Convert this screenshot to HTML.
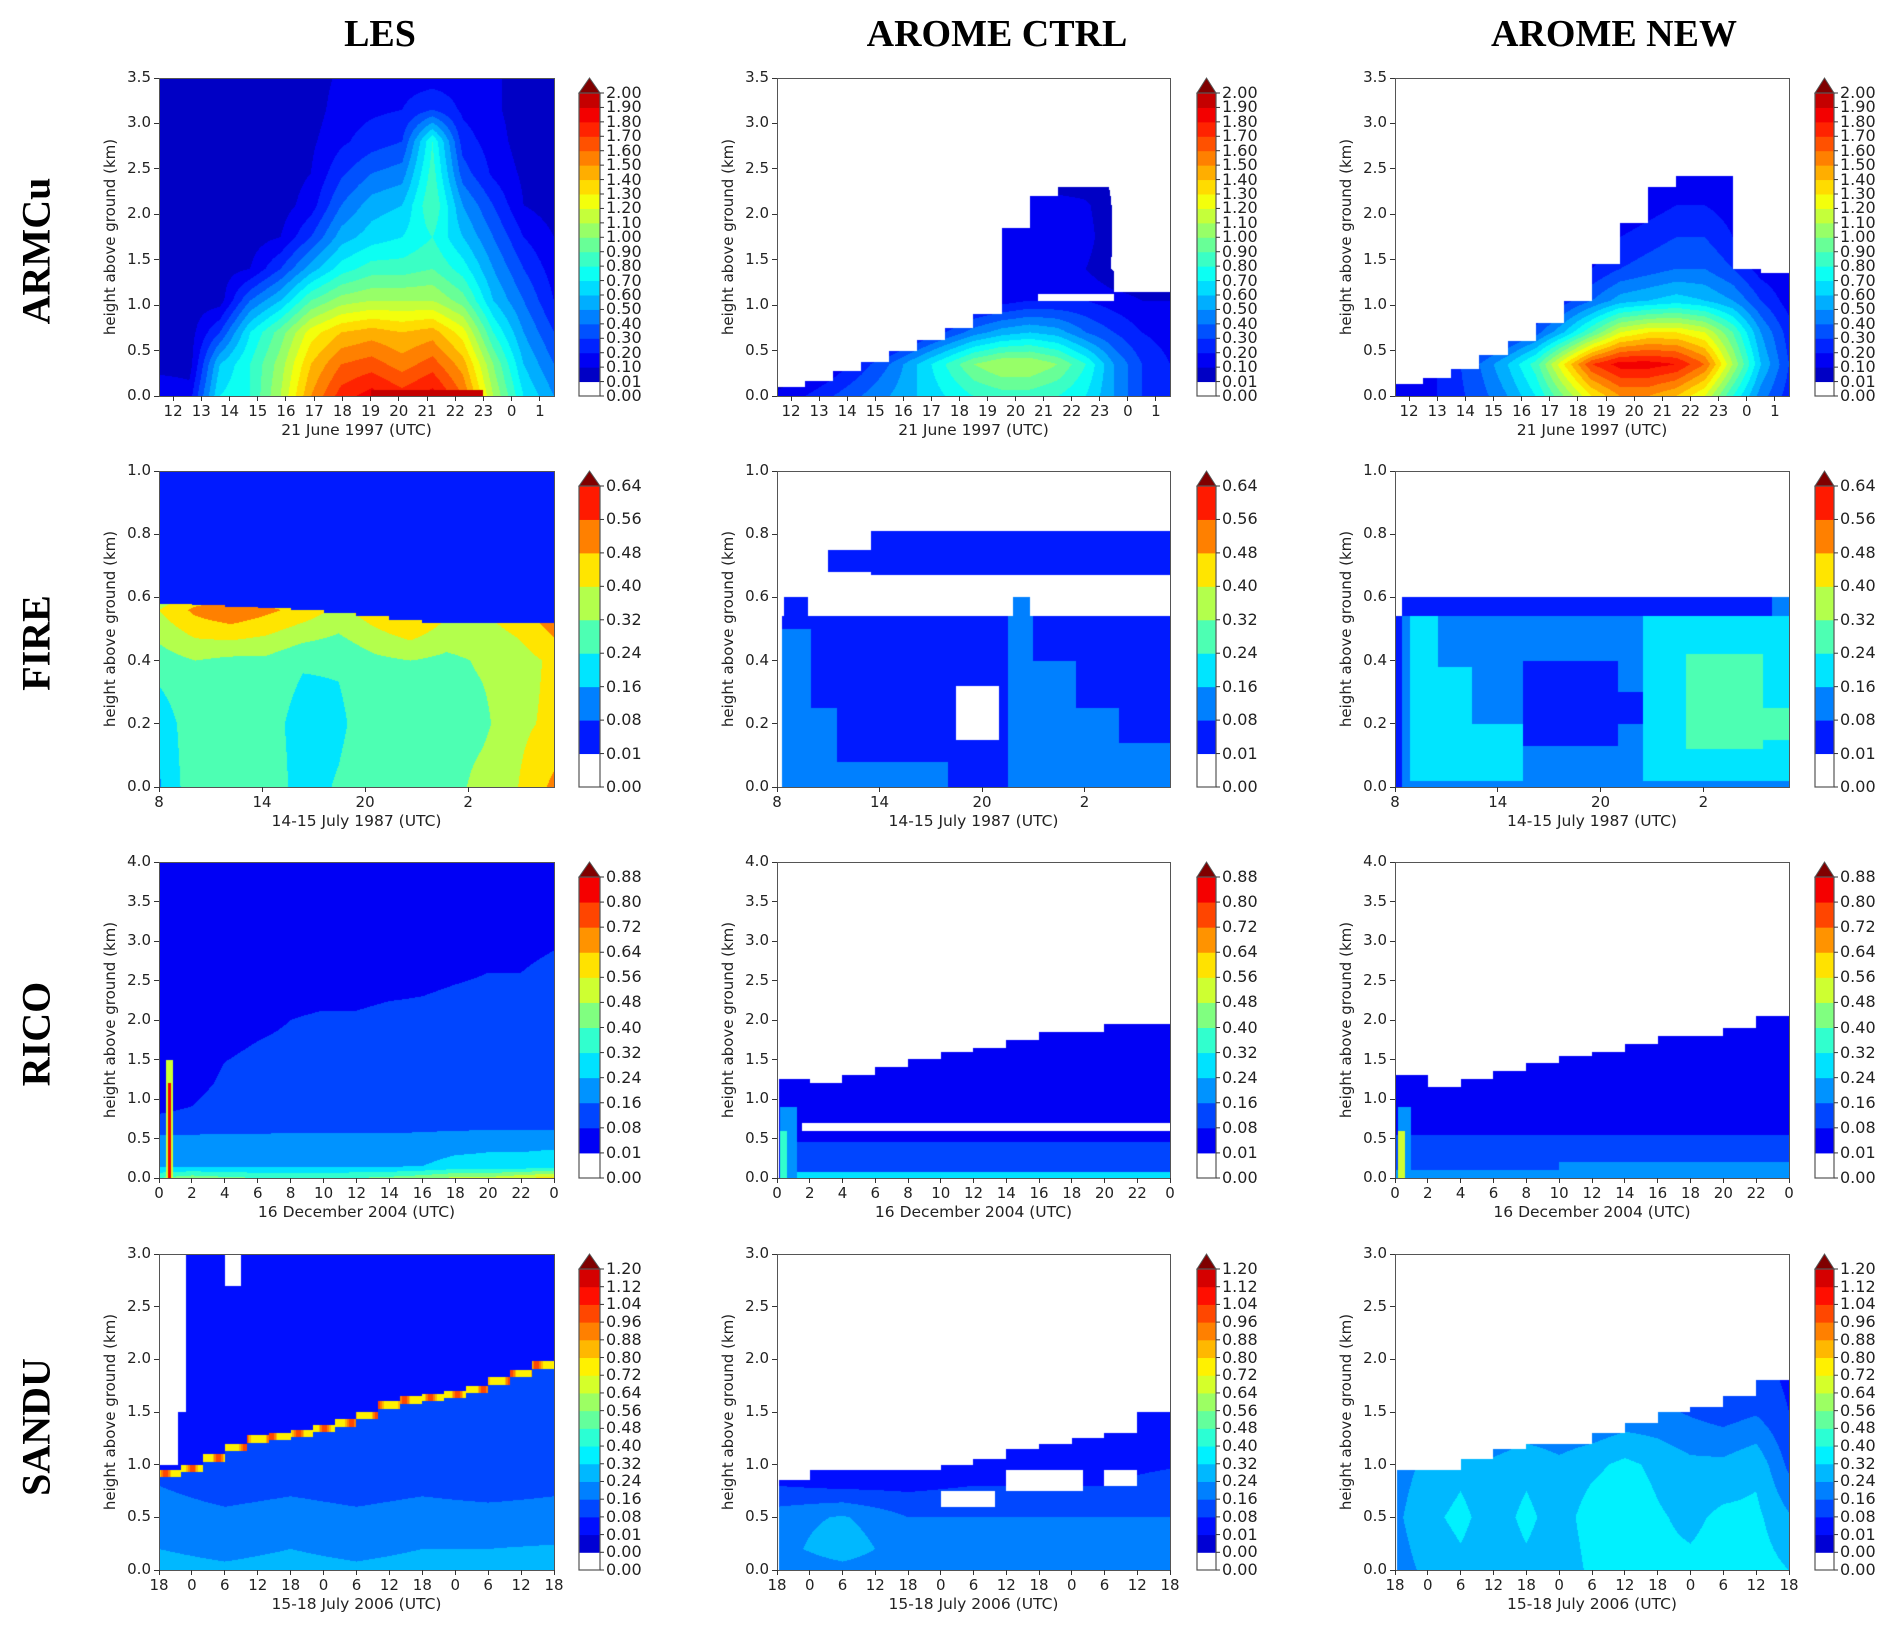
<!DOCTYPE html>
<html><head><meta charset="utf-8">
<style>
body{margin:0;background:#fff;width:1892px;height:1632px;position:relative;overflow:hidden;font-family:"DejaVu Sans","Liberation Sans",sans-serif;color:#222}
.abs{position:absolute}
.title{position:absolute;font-family:"Liberation Serif",serif;font-weight:bold;font-size:38px;color:#000;transform:translateX(-50%);white-space:nowrap}
.rowlab{position:absolute;font-family:"Liberation Serif",serif;font-weight:bold;font-size:40px;color:#000;transform:translate(-50%,-50%) rotate(-90deg);white-space:nowrap}
.frame{position:absolute;border:1.5px solid #555;box-sizing:border-box}
.tk{position:absolute;background:#333}
.lbl{position:absolute;font-size:15px;white-space:nowrap;line-height:1}
.cbl{position:absolute;font-size:16px;white-space:nowrap;line-height:1}
.ylab{position:absolute;font-size:15px;white-space:nowrap;transform:translate(-50%,-50%) rotate(-90deg)}
</style></head><body>
<div class="title" style="left:380px;top:12px">LES</div>
<div class="title" style="left:997px;top:12px">AROME CTRL</div>
<div class="title" style="left:1614px;top:12px">AROME NEW</div>
<div class="rowlab" style="left:36px;top:251px">ARMCu</div>
<div class="rowlab" style="left:36px;top:643px">FIRE</div>
<div class="rowlab" style="left:36px;top:1034px">RICO</div>
<div class="rowlab" style="left:36px;top:1427px">SANDU</div>
<script>
// ---- colour levels ----
const levelsArmcu=[0,0.01,0.1,0.2,0.3,0.4,0.5,0.6,0.7,0.8,0.9,1.0,1.1,1.2,1.3,1.4,1.5,1.6,1.7,1.8,1.9,2.0];
const levelsFire=[0,0.01,0.08,0.16,0.24,0.32,0.40,0.48,0.56,0.64];
const levelsRico=[0,0.01,0.08,0.16,0.24,0.32,0.40,0.48,0.56,0.64,0.72,0.80,0.88];
const levelsSandu=[0,0,0.01,0.08,0.16,0.24,0.32,0.40,0.48,0.56,0.64,0.72,0.80,0.88,0.96,1.04,1.12,1.20];
// ---- axes ----
const xTicksArmcu=[12,13,14,15,16,17,18,19,20,21,22,23,24,25];
const xLabelsArmcu=["12","13","14","15","16","17","18","19","20","21","22","23","0","1"];
const xTicksFire=[8,14,20,26];
const xLabelsFire=["8","14","20","2"];
const xTicksRico=[0,2,4,6,8,10,12,14,16,18,20,22,24];
const xLabelsRico=["0","2","4","6","8","10","12","14","16","18","20","22","0"];
const xTicksSandu=[0,6,12,18,24,30,36,42,48,54,60,66,72];
const xLabelsSandu=["18","0","6","12","18","0","6","12","18","0","6","12","18"];
const yTicksArmcu=[0,0.5,1.0,1.5,2.0,2.5,3.0,3.5];
const yTicksFire=[0,0.2,0.4,0.6,0.8,1.0];
const yTicksRico=[0,0.5,1.0,1.5,2.0,2.5,3.0,3.5,4.0];
const yTicksSandu=[0,0.5,1.0,1.5,2.0,2.5,3.0];
// ---- fields ----
const armcuLesH=[3.5,3.15,2.8,2.45,2.1,1.75,1.4,1.05,0.7,0.35,0];
const armcuLesGrid=[
[.05,.05,.05,.05,.05,.05,.12,.15,.15,.15,.15,.12,.05,.05],
[.05,.05,.05,.05,.05,.05,.15,.18,.2,.3,.18,.12,.05,.05],
[.05,.05,.05,.05,.05,.08,.18,.25,.3,.8,.25,.15,.05,.05],
[.05,.05,.05,.05,.05,.1,.28,.4,.45,.85,.35,.18,.08,.05],
[.05,.05,.05,.05,.05,.15,.4,.55,.6,.9,.5,.3,.1,.05],
[.05,.05,.05,.05,.1,.3,.55,.65,.7,.8,.6,.4,.2,.1],
[.05,.05,.05,.1,.3,.55,.75,.85,.85,.9,.75,.5,.3,.15],
[.05,.05,.05,.4,.6,.9,1.05,1.1,1.1,1.1,.95,.6,.4,.2],
[.05,.05,.3,.7,.95,1.25,1.4,1.45,1.4,1.45,1.25,.8,.5,.3],
[.05,.05,.6,.8,1.05,1.4,1.6,1.65,1.55,1.65,1.45,1.0,.6,.4],
[.2,.15,.7,.8,1.1,1.5,1.75,1.85,1.75,1.85,1.6,1.1,.7,.5]];
const armcuLesRects=[[19,23,0,0.07,1.95]];
const armcuCtrlH=[3.5,3.15,2.8,2.45,2.1,1.75,1.4,1.05,0.7,0.35,0];
const armcuCtrlGrid=[
[0,0,0,0,0,0,0,0,0,0,0,0,0,0,0],
[0,0,0,0,0,0,0,0,0,0,0,0,0,0,0],
[0,0,0,0,0,0,0,0,0,0,0,0,0,0,0],
[0,0,0,0,0,0,0,0,0,0,0,0,0,0,0],
[0,0,0,0,0,0,0,0,.12,.15,.15,.12,0,0,0],
[0,0,0,0,0,0,0,.08,.15,.2,.2,.15,0,0,0],
[0,0,0,0,0,0,0,.1,.15,.2,.15,.1,0,0,0],
[0,0,0,0,0,0,0,.1,.15,.2,.2,.2,.15,.1,.1],
[0,0,0,0,0,.15,.3,.45,.55,.6,.55,.4,.3,.2,.15],
[0,0,.12,.25,.4,.6,.8,1.0,1.1,1.1,1.0,.8,.5,.3,.2],
[.12,.2,.3,.4,.5,.6,.7,.8,.85,.85,.8,.7,.5,.3,.2]];
const armcuCtrlTops=[0.1,0.17,0.27,0.37,0.5,0.62,0.75,0.9,1.85,2.2,2.3,2.3,1.15,1.15];
const armcuCtrlRects=[[18.4,19.3,1.02,1.1,0],[20.8,23.5,1.05,1.12,0]];
const armcuNewH=[3.5,3.15,2.8,2.45,2.1,1.75,1.4,1.05,0.7,0.35,0];
const armcuNewGrid=[
[0,0,0,0,0,0,0,0,0,0,0,0,0,0,0],
[0,0,0,0,0,0,0,0,0,0,0,0,0,0,0],
[0,0,0,0,0,0,0,0,0,0,0,0,0,0,0],
[0,0,0,0,0,0,0,0,.08,.1,.12,.12,.1,0,0],
[0,0,0,0,0,0,0,0,.1,.15,.2,.2,.15,0,0],
[0,0,0,0,0,0,0,.1,.2,.25,.3,.3,.2,.05,0],
[0,0,0,0,0,0,.1,.2,.3,.35,.4,.4,.3,.15,.1],
[0,0,0,0,0,.1,.25,.4,.55,.6,.65,.6,.5,.3,.15],
[0,0,0,.1,.2,.35,.6,.9,1.2,1.3,1.3,1.2,.9,.5,.25],
[.1,.15,.25,.4,.6,.85,1.3,1.7,1.85,1.85,1.8,1.6,1.1,.6,.3],
[.1,.15,.25,.35,.5,.7,1.0,1.3,1.5,1.5,1.4,1.2,.8,.45,.25]];
const armcuNewTops=[0.13,0.2,0.3,0.45,0.6,0.8,1.05,1.45,1.9,2.3,2.42,2.42,1.4,1.35];
const fireLesH=[1.0,0.8,0.56,0.4,0.2,0];
const fireLesGrid=[
[.04,.04,.04,.04,.04,.04,.04,.04,.04,.04,.04,.04],
[.04,.04,.04,.04,.04,.04,.04,.04,.04,.04,.04,.04],
[.4,.5,.55,.5,.45,.38,.45,.52,.42,.4,.45,.55],
[.28,.32,.3,.3,.25,.25,.3,.32,.3,.33,.36,.42],
[.18,.3,.3,.28,.2,.22,.3,.3,.28,.3,.38,.42],
[.15,.3,.3,.3,.2,.25,.32,.3,.28,.35,.4,.5]];
const fireLesTops=[.58,.575,.57,.565,.56,.55,.54,.53,.52,.52,.52,.52];
const fireCtrlRects=[[8.3,31,0,0.54,0.05],[8.4,9.8,0.54,0.6,0.05],[21.8,22.8,0.54,0.6,0.12],[11,13.5,0.68,0.75,0.05],[13.5,31,0.67,0.81,0.05],[8.3,10,0,0.5,0.12],[10,11.5,0,0.25,0.12],[11.5,18,0,0.08,0.12],[21.5,23,0,0.54,0.12],[23,25.5,0,0.4,0.12],[25.5,28,0,0.25,0.12],[28,31,0,0.14,0.12],[18.5,21,0.15,0.32,0]];
const fireNewRects=[[8.4,31,0.54,0.6,0.05],[8.3,31,0,0.54,0.12],[8.9,10.5,0.02,0.54,0.2],[10.5,12.5,0.02,0.38,0.2],[12.5,15.5,0.02,0.2,0.2],[15.5,21,0.13,0.4,0.05],[21,22.5,0.2,0.3,0.05],[22.5,31,0.02,0.54,0.2],[25,29.5,0.12,0.42,0.26],[29.5,31,0.15,0.25,0.26],[8,8.4,0,0.54,0.05],[30,31,0.54,0.6,0.12]];
const ricoLesH=[4,2.6,2.0,1.2,0.62,0.5,0.15,0];
const ricoLesGrid=[
[.04,.04,.04,.04,.04,.04,.04,.04,.04,.04,.04,.04,.04],
[.04,.04,.04,.04,.04,.04,.04,.05,.06,.07,.08,.08,.09],
[.04,.04,.06,.07,.08,.09,.09,.1,.1,.11,.11,.12,.12],
[.04,.06,.09,.1,.1,.11,.11,.11,.11,.12,.12,.12,.12],
[.1,.1,.12,.12,.13,.13,.13,.13,.14,.15,.15,.15,.15],
[.19,.2,.2,.2,.2,.2,.2,.2,.2,.21,.22,.22,.22],
[.22,.22,.22,.22,.22,.22,.23,.23,.24,.26,.26,.26,.27],
[.4,.45,.42,.4,.4,.4,.4,.42,.45,.5,.5,.55,.6]];
const ricoLesRects=[[0.45,0.85,0,1.5,0.5],[0.55,0.75,0,1.2,0.85]];
const ricoCtrlH=[4,0];
const ricoCtrlGrid=[[.05,.05],[.05,.05]];
const ricoCtrlTops=[1.25,1.2,1.3,1.4,1.5,1.6,1.65,1.75,1.85,1.85,1.95,1.95];
const ricoCtrlRects=[[1.5,24,0.6,0.7,0],[0.2,24,0.3,0.45,0.1],[1,24,0.08,0.3,0.16],[0.2,24,0,0.08,0.25],[0.2,1.2,0,0.9,0.2],[0.2,0.6,0,0.6,0.4]];
const ricoNewH=[4,0];
const ricoNewGrid=[[.05,.05],[.05,.05]];
const ricoNewTops=[1.3,1.15,1.25,1.35,1.45,1.55,1.6,1.7,1.8,1.8,1.9,2.05];
const ricoNewRects=[[0,24,0.3,0.55,0.1],[0,24,0.1,0.3,0.16],[0,24,0,0.1,0.24],[10,24,0,0.2,0.24],[0.2,1,0,0.9,0.2],[0.2,0.6,0,0.6,0.5]];
const sanduLesH=[2,1.2,0.8,0.4,0];
const sanduLesGrid=[
[.12,.12,.12,.12,.12,.12,.12],
[.14,.12,.13,.14,.12,.15,.14],
[.16,.12,.14,.12,.14,.12,.14],
[.22,.2,.22,.2,.22,.22,.22],
[.26,.25,.26,.25,.26,.26,.27]];
const sanduLesTops=[.95,1.0,1.1,1.2,1.28,1.3,1.33,1.38,1.43,1.5,1.6,1.65,1.67,1.7,1.75,1.83,1.9,1.98];
const sanduLesRects=[[0,3.5,1.0,3,0],[3.5,5,1.5,3,0],[12,15,2.7,3,0]];
const sanduCtrlH=[3,1.2,0.8,0.5,0.2,0];
const sanduCtrlGrid=[
[0,0,0,0,0,0,0],
[.05,.05,.05,.05,.05,.05,.05],
[.08,.06,.06,.08,.08,.08,.1],
[.2,.25,.16,.16,.16,.16,.16],
[.2,.3,.18,.18,.18,.18,.18],
[.16,.2,.16,.16,.16,.16,.16]];
const sanduCtrlTops=[.85,.95,.95,.95,.95,1.0,1.05,1.15,1.2,1.25,1.3,1.5];
const sanduCtrlRects=[[42,56,0.75,0.95,0],[30,40,0.6,0.75,0],[60,66,0.8,0.95,0]];
const sanduNewH=[3,1.5,1.0,0.5,0];
const sanduNewGrid=[
[0,0,0,0,0,0,0,0,0,0,0,0,0],
[.08,.1,.12,.12,.15,.15,.15,.18,.18,.15,.12,.15,.08],
[.2,.26,.3,.26,.3,.26,.3,.34,.3,.26,.26,.3,.14],
[.22,.3,.34,.28,.34,.28,.36,.38,.33,.3,.34,.34,.25],
[.2,.26,.3,.26,.3,.26,.34,.34,.34,.34,.36,.36,.32]];
const sanduNewTops=[.95,.95,1.05,1.15,1.2,1.2,1.3,1.4,1.5,1.55,1.65,1.8];

const colX=[[159,554,579,600],[777,1170,1197,1216],[1395,1789,1815,1834]];
const rowY=[[78,396],[471,787],[862,1178],[1254,1570]];
const rows=[
 {name:"armcu",x0:11.5,x1:25.5,y1:3.5,lev:levelsArmcu,xt:xTicksArmcu,xl:xLabelsArmcu,yt:yTicksArmcu,xlabel:"21 June 1997 (UTC)",
  panels:[{bg:.05,H:armcuLesH,grid:armcuLesGrid,rects:armcuLesRects},{bg:0,H:armcuCtrlH,grid:armcuCtrlGrid,tops:armcuCtrlTops,rects:armcuCtrlRects},{bg:0,H:armcuNewH,grid:armcuNewGrid,tops:armcuNewTops}]},
 {name:"fire",x0:8,x1:31,y1:1,lev:levelsFire,xt:xTicksFire,xl:xLabelsFire,yt:yTicksFire,xlabel:"14-15 July 1987 (UTC)",
  panels:[{bg:.04,H:fireLesH,grid:fireLesGrid,tops:fireLesTops},{bg:0,rects:fireCtrlRects},{bg:0,rects:fireNewRects}]},
 {name:"rico",x0:0,x1:24,y1:4,lev:levelsRico,xt:xTicksRico,xl:xLabelsRico,yt:yTicksRico,xlabel:"16 December 2004 (UTC)",
  panels:[{bg:.04,H:ricoLesH,grid:ricoLesGrid,rects:ricoLesRects},{bg:0,H:ricoCtrlH,grid:ricoCtrlGrid,tops:ricoCtrlTops,rects:ricoCtrlRects,x0:0.15},{bg:0,H:ricoNewH,grid:ricoNewGrid,tops:ricoNewTops,rects:ricoNewRects}]},
 {name:"sandu",x0:0,x1:72,y1:3,lev:levelsSandu,xt:xTicksSandu,xl:xLabelsSandu,yt:yTicksSandu,xlabel:"15-18 July 2006 (UTC)",
  panels:[{bg:.04,H:sanduLesH,grid:sanduLesGrid,tops:sanduLesTops,cap:.75,capT:.07,rects:sanduLesRects},{bg:0,H:sanduCtrlH,grid:sanduCtrlGrid,tops:sanduCtrlTops,rects:sanduCtrlRects,x0:0.3},{bg:0,H:sanduNewH,grid:sanduNewGrid,tops:sanduNewTops,x0:0.3}]}
];
const colNames=["les","arome-ctrl","arome-new"];
function clip(v){return Math.max(0,Math.min(1,v));}
function jet(t){return [clip(1.5-Math.abs(4*t-3)),clip(1.5-Math.abs(4*t-2)),clip(1.5-Math.abs(4*t-1))].map(c=>Math.round(c*255));}
function binColor(lev,k){
  const K=lev.length-2;
  if(k<=0) return [255,255,255];
  if(k>K) return [128,0,0];
  return jet((k-1+1.5)/(K+2));
}
function colorOf(lev,v){
  if(v>lev[lev.length-1]) return binColor(lev,lev.length);
  for(let k=0;k<lev.length-1;k++){ if(v<=lev[k+1]) return binColor(lev,k); }
  return binColor(lev,lev.length);
}
function sample(p,R,x,y){
  let v=p.bg;
  if(p.grid){
    const H=p.H, g=p.grid, nc=g[0].length;
    let i=0; while(i<H.length-2 && y<H[i+1]) i++;
    const fy=(H[i]-y)/(H[i]-H[i+1]);
    const cx=(x-R.x0)/(R.x1-R.x0)*(nc-1);
    const j=Math.max(0,Math.min(nc-2,Math.floor(cx))); const fx=Math.max(0,Math.min(1,cx-j));
    const a=g[i][j]*(1-fx)+g[i][j+1]*fx, b=g[i+1][j]*(1-fx)+g[i+1][j+1]*fx;
    v=a*(1-fy)+b*fy;
  }
  if(p.tops){
    const n=p.tops.length; const idx=Math.max(0,Math.min(n-1,Math.floor((x-R.x0)/(R.x1-R.x0)*n)));
    const top=p.tops[idx];
    if(y>top) v=p.bg;
    else if(p.cap && y>top-p.capT) v=p.cap+0.25*Math.max(0,Math.sin(x*1.3));
  }
  if(p.x0!==undefined && x<R.x0+p.x0) v=0;
  if(p.rects) for(const r of p.rects){ if(x>=r[0]&&x<r[1]&&y>=r[2]&&y<r[3]) v=r[4]; }
  return v;
}
function el(tag,cls){const e=document.createElement(tag); if(cls) e.className=cls; document.body.appendChild(e); return e;}
rows.forEach((R,ri)=>{
  const [yt,yb]=rowY[ri];
  R.panels.forEach((p,ci)=>{
    const [xl,xr,cbl,cbr]=colX[ci];
    const W=xr-xl, Hh=yb-yt;
    const cv=document.createElement('canvas'); cv.width=W; cv.height=Hh;
    cv.style.cssText=`position:absolute;left:${xl}px;top:${yt}px`;
    
    
    document.body.appendChild(cv);
    const ctx=cv.getContext('2d'); const img=ctx.createImageData(W,Hh);
    for(let py=0;py<Hh;py++){ const y=R.y1*(1-(py+0.5)/Hh);
      for(let px=0;px<W;px++){ const x=R.x0+(R.x1-R.x0)*(px+0.5)/W;
        const c=colorOf(R.lev,sample(p,R,x,y)); const o=(py*W+px)*4;
        img.data[o]=c[0];img.data[o+1]=c[1];img.data[o+2]=c[2];img.data[o+3]=255; } }
    ctx.putImageData(img,0,0);
    const fr=el('div','frame'); fr.style.cssText=`left:${xl}px;top:${yt}px;width:${W+1}px;height:${Hh+1}px`;
    
    
    R.xt.forEach((t,k)=>{ const px=xl+(t-R.x0)/(R.x1-R.x0)*W;
      const tk=el('div','tk'); tk.style.cssText=`left:${px-0.5}px;top:${yb}px;width:1px;height:5px`;
      
      
      const lb=el('div','lbl'); lb.textContent=R.xl[k]; lb.style.cssText=`left:${px}px;top:${yb+8}px;transform:translateX(-50%)`;
      
       });
    R.yt.forEach(t=>{ const py=yb-t/R.y1*Hh;
      const tk=el('div','tk'); tk.style.cssText=`left:${xl-5}px;top:${py-0.5}px;width:5px;height:1px`;
      
      
      const lb=el('div','lbl'); lb.textContent=t.toFixed(1); lb.style.cssText=`right:${1892-xl+8}px;top:${py-8}px`;
      
       });
    const yl=el('div','ylab'); yl.textContent='height above ground (km)'; yl.style.left=(xl-49)+'px'; yl.style.top=((yt+yb)/2)+'px';
    
    
    const xlb=el('div','lbl'); xlb.textContent=R.xlabel; xlb.style.cssText=`left:${(xl+xr)/2}px;top:${yb+27}px;transform:translateX(-50%);font-size:15.5px`;
    
    
    const cw=cbr-cbl, ctop=yt+15, nb=R.lev.length-1, bh=(yb-ctop)/nb;
    const svgNS='http://www.w3.org/2000/svg';
    const sv=document.createElementNS(svgNS,'svg'); sv.setAttribute('width',cw+12); sv.setAttribute('height',yb-yt+4);
    sv.style.cssText=`position:absolute;left:${cbl-1}px;top:${yt-1}px;overflow:visible`;
    
    
    document.body.appendChild(sv);
    let s=`<polygon points="1,16 ${cw/2+1},1 ${cw+1},16" fill="rgb(128,0,0)" stroke="#555" stroke-width="1"/>`;
    for(let k=0;k<nb;k++){ const c=binColor(R.lev,k); const y0=yb-yt+1-(k+1)*bh;
      s+=`<rect x="1" y="${y0}" width="${cw}" height="${bh+0.5}" fill="rgb(${c})"/>`; }
    s+=`<rect x="1" y="16" width="${cw}" height="${yb-ctop}" fill="none" stroke="#555" stroke-width="1.2"/>`;
    for(let k=0;k<=nb;k++){ const y0=yb-yt+1-k*bh; s+=`<line x1="${cw+1}" x2="${cw+5}" y1="${y0}" y2="${y0}" stroke="#333"/>`; }
    sv.innerHTML=s;
    R.lev.forEach((lv,k)=>{ const py=yb-k*bh;
      const lb=el('div','cbl'); lb.textContent=lv.toFixed(2); lb.style.cssText=`left:${cbr+6}px;top:${py-8}px`;
      
       });
  });
});
</script>
</body></html>
